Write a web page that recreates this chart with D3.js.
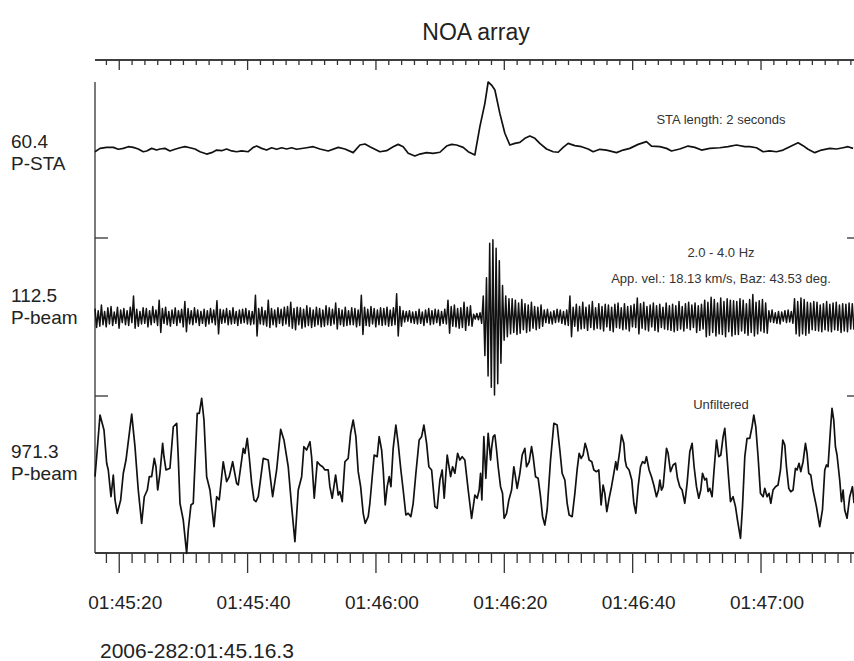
<!DOCTYPE html>
<html lang="en">
<head>
<meta charset="UTF-8">
<title>NOA array</title>
<style>
body { margin: 0; background: #fff; }
svg { display: block; font-family: "Liberation Sans", Arial, sans-serif; }
.trace { fill: none; stroke: #111; stroke-linejoin: round; }
.frame { stroke: #333; stroke-width: 1.3; fill: none; }
.axis path, .axis line { stroke: #333; stroke-width: 1.3; }
</style>
</head>
<body>
<svg width="854" height="661"></svg>
<script src="https://d3js.org/d3.v7.min.js"></script>
<script>
// 2006-282 = 9 Oct 2006, trace start 01:45:16.3 UTC
const startTime = new Date(Date.UTC(2006, 9, 9, 1, 45, 16, 300));
const windowSeconds = 119.2;

const channelNames = ["P-STA", "P-beam", "P-beam"];
const channelMax = [60.4, 112.5, 971.3];
const notes = [["STA length: 2 seconds"], ["2.0 - 4.0 Hz", "App. vel.: 18.13 km/s, Baz: 43.53 deg."], ["Unfiltered"]];

// STA trace: [seconds after start, value]
const staTrace = [[0,6.4],[0.78,9.0],[1.82,9.8],[2.85,9.8],[3.63,8.3],[4.41,9.0],[5.19,10.3],[5.97,9.8],[6.74,8.5],[7.52,6.4],[8.05,7.0],[8.83,9.0],[9.61,7.7],[10.12,8.5],[10.90,9.0],[11.68,7.0],[12.46,8.3],[13.24,9.5],[14.02,10.3],[14.80,9.5],[15.58,8.5],[16.36,6.4],[17.40,4.6],[18.18,5.7],[18.96,7.7],[19.74,7.2],[20.51,8.5],[21.29,7.0],[22.07,6.4],[22.85,7.0],[23.88,6.4],[24.66,9.8],[25.19,10.8],[25.97,9.0],[26.74,7.7],[27.52,9.5],[28.30,8.3],[29.08,9.5],[29.86,8.5],[30.64,9.5],[31.42,8.3],[32.97,9.5],[34.00,10.3],[35.05,8.5],[36.34,7.0],[37.90,9.8],[38.94,8.5],[40.23,5.7],[41.28,11.6],[42.06,12.4],[42.83,10.3],[44.39,6.4],[45.44,7.2],[46.46,10.3],[47.24,12.1],[48.02,10.3],[48.80,5.2],[49.84,3.1],[50.62,4.6],[51.67,5.7],[52.69,5.2],[53.74,6.0],[54.78,10.8],[55.56,12.1],[56.34,11.6],[57.37,9.8],[58.15,6.4],[59.19,3.9],[59.97,25.8],[60.75,43.9],[61.26,60.4],[61.79,58.0],[62.31,54.2],[63.08,36.1],[63.86,20.7],[64.64,11.6],[65.42,12.9],[66.20,13.7],[66.98,16.8],[67.76,18.6],[68.54,16.8],[69.31,12.9],[70.36,8.5],[71.39,6.4],[72.17,6.0],[72.95,9.8],[73.72,12.9],[74.77,11.1],[75.81,10.3],[76.84,8.5],[77.62,6.4],[78.66,8.3],[79.70,7.7],[81.26,5.7],[82.29,7.7],[83.33,9.0],[84.63,12.1],[85.93,14.2],[86.71,10.8],[88.01,10.3],[89.05,9.0],[89.83,7.0],[91.12,8.5],[92.41,10.8],[93.46,9.8],[94.50,7.7],[95.79,9.0],[97.35,9.5],[98.64,10.3],[99.95,11.6],[101.25,10.3],[102.02,10.3],[103.07,9.5],[104.10,6.4],[105.14,7.0],[106.18,6.4],[107.21,7.7],[108.26,10.3],[109.55,13.4],[110.33,11.1],[111.11,8.3],[112.15,5.7],[113.19,7.7],[114.49,9.0],[115.53,8.5],[116.57,9.5],[117.34,10.3],[118.12,9.0]];

// filtered beam, one extreme every 0.25 s
const beamStep = 0.25;
const beamAmp = [
  12,-15,9,-13,17,-11,8,-14,13,-10,15,-12,7,-9,14,-16,10,-8,12,-11,
  9,-12,14,-8,30,-16,11,-13,8,-10,13,-9,12,-14,9,-11,15,-8,10,-12,
  24,-22,12,-9,14,-11,8,-13,10,-9,13,-12,9,-8,11,-14,22,-21,12,-10,
  9,-11,13,-8,10,-12,8,-9,11,-13,9,-10,12,-8,10,-11,23,-24,11,-9,
  10,-8,12,-11,9,-10,13,-9,8,-12,10,-9,11,-8,12,-10,9,-11,8,-10,
  31,-27,12,-10,14,-11,9,-13,24,-15,12,-11,10,-14,13,-9,11,-12,14,-10,
  15,-13,21,-16,12,-18,14,-11,13,-16,11,-14,16,-12,13,-15,10,-13,14,-11,
  12,-14,10,-13,16,-11,13,-12,11,-10,20,-17,12,-11,10,-13,14,-12,9,-11,
  13,-11,12,-14,10,-12,31,-25,14,-12,11,-13,15,-10,12,-14,10,-11,13,-12,
  12,-11,14,-13,10,-12,13,-11,33,-27,15,-13,9,-7,8,-6,9,-8,7,-9,
  8,-10,11,-9,7,-12,10,-8,12,-11,9,-10,11,-8,10,-12,8,-9,11,-10,
  24,-23,15,-13,17,-14,12,-16,13,-15,21,-19,14,-12,16,-13,4,-3,5,-4,
  6,-9,30,-55,56,-84,105,-100,110,-111,98,-95,80,-66,45,-33,30,-28,26,-24,
  26,-22,24,-25,20,-23,25,-18,19,-22,17,-20,21,-16,15,-18,14,-16,17,-13,
  10,-8,11,-9,7,-10,9,-8,11,-7,10,-9,8,-11,10,-12,30,-28,14,-13,
  18,-20,15,-17,21,-16,14,-19,17,-15,22,-18,13,-16,19,-17,15,-20,18,-14,
  17,-19,14,-21,18,-15,20,-16,13,-18,19,-17,15,-20,16,-14,18,-15,27,-24,
  19,-16,21,-18,15,-20,17,-14,20,-19,16,-21,18,-15,14,-17,20,-18,16,-19,
  18,-21,16,-19,22,-17,15,-20,19,-16,21,-18,17,-15,20,-22,16,-19,18,-17,
  24,-28,21,-26,28,-22,25,-27,20,-24,27,-25,22,-28,26,-21,24,-27,23,-25,
  22,-25,26,-20,24,-23,19,-26,25,-22,32,-27,21,-24,23,-20,25,-22,20,-23,
  9,-7,10,-8,6,-9,8,-10,7,-6,9,-8,10,-7,8,-9,26,-24,22,-27,
  27,-24,25,-26,21,-23,20,-18,22,-19,21,-20,17,-21,19,-18,22,-20,18,-21,
  20,-18,21,-19,17,-22,19,-20,18,-21,20,-17,19,-18
];

// unfiltered beam: [seconds after start, counts]
const rawTrace = [[0,-27],[0.26,220],[0.78,736],[1.40,550],[1.82,139],[2.07,56],[2.49,-275],[2.85,-6],[3.12,-315],[3.47,-480],[4.00,-315],[4.41,15],[4.83,179],[5.72,748],[6.23,344],[6.74,-192],[7.27,-604],[7.68,-275],[8.15,-192],[8.46,-27],[8.83,-27],[9.24,200],[9.50,96],[9.77,-192],[10.12,15],[10.54,386],[10.75,220],[11.06,56],[11.68,77],[12.20,591],[12.73,633],[12.97,220],[13.24,-356],[13.75,-563],[14.28,-975],[14.53,-687],[14.95,-377],[15.31,-356],[15.93,757],[16.25,757],[16.62,943],[16.98,674],[17.40,-27],[17.91,-192],[18.54,-646],[18.96,-275],[19.36,-315],[19.98,158],[20.51,-89],[20.92,-27],[21.45,158],[22.07,-109],[22.32,-130],[23.10,324],[23.36,262],[23.72,448],[24.03,220],[24.41,-109],[24.77,-315],[25.08,-336],[25.44,-275],[26.22,200],[26.99,179],[27.68,-275],[28.30,56],[28.93,559],[29.44,427],
[30.11,96],[30.64,-398],[31.15,-831],[31.67,-192],[32.20,-27],[32.55,344],[32.98,303],[33.49,406],[33.75,220],[34.16,-294],[34.63,158],[35.05,118],[35.47,96],[35.83,56],[36.34,56],[36.60,-151],[36.96,-294],[37.49,-6],[37.90,-254],[38.16,-213],[38.52,-336],[38.94,158],[39.45,200],[39.83,510],[40.23,674],[40.65,468],[41.01,35],[41.39,-151],[41.79,-480],[42.10,-604],[42.57,-522],[42.83,-356],[43.50,241],[43.97,220],[44.28,468],[44.66,303],[44.91,56],[45.22,-377],[45.53,-151],[45.84,-27],[46.11,-151],[46.46,324],[46.88,612],[47.24,386],[47.66,56],[48.02,-192],[48.44,-501],[48.80,-480],[49.22,-522],[49.58,-356],[50.00,15],[50.51,427],[50.89,468],[51.25,612],[51.67,386],[52.02,96],[52.45,56],[52.96,-398],[53.32,-418],[53.74,-68],[54.10,56],[54.41,-294],[54.88,241],[55.41,-27],[55.72,96],[56.07,15],[56.50,262],[56.85,179],[57.21,220],[57.63,179],[58.15,-192],[58.68,-542],
[59.19,-254],[59.55,-294],[59.86,-192],[60.08,15],[60.28,-315],[60.59,468],[60.90,-47],[61.26,510],[61.64,179],[61.79,324],[62.04,468],[62.31,489],[62.57,303],[62.82,96],[63.19,-151],[63.50,-233],[63.75,-542],[64.13,-480],[64.49,-315],[64.91,-192],[65.26,96],[65.47,-6],[65.78,-171],[66.20,15],[66.56,241],[66.98,324],[67.24,96],[67.65,158],[68.02,344],[68.27,220],[68.64,-27],[69.05,-47],[69.42,-275],[69.74,-522],[70.09,-625],[70.45,-439],[70.98,179],[71.50,633],[72.01,612],[72.43,303],[72.79,15],[73.21,-68],[73.57,-356],[73.88,-501],[74.35,-522],[74.77,-233],[75.12,56],[75.44,262],[75.75,200],[76.06,241],[76.37,386],[76.68,303],[76.99,179],[77.41,158],[77.73,56],[78.15,35],[78.50,56],[78.86,-377],[79.17,-130],[79.44,-233],[79.75,-460],[80.11,-294],[80.48,-151],[80.84,15],[81.15,158],[81.35,56],[81.78,303],[82.04,489],[82.40,386],[82.60,179],[82.82,96],[83.22,56],[83.64,-68],[83.96,-356],[84.27,-480],[84.63,-151],[85.00,96],[85.31,158],[85.67,139],[85.93,220],[86.34,56],[86.71,-27],[87.07,-130],[87.49,-275],[87.80,-192],
[88.01,-68],[88.27,-192],[88.52,-151],[89.05,324],[89.30,262],[89.67,35],[90.08,118],[90.45,139],[90.76,-47],[91.12,-151],[91.48,-192],[91.90,-356],[92.26,-109],[92.68,282],[93.04,386],[93.35,96],[93.72,-151],[94.08,-294],[94.39,-192],[94.66,15],[95.02,-68],[95.28,-47],[95.53,-213],[95.79,-171],[96.15,-275],[96.46,56],[96.84,427],[97.20,220],[97.51,241],[97.87,468],[98.13,571],[98.40,303],[98.75,-68],[99.02,-336],[99.42,-275],[99.80,-398],[100.11,-563],[100.58,-789],[100.89,-398],[101.25,220],[101.60,448],[102.02,448],[102.38,591],[102.65,736],[102.96,591],[103.32,220],[103.69,-233],[104.10,-275],[104.36,-171],[104.72,-275],[105.03,-233],[105.30,-356],[105.65,-192],[106.03,-151],[106.43,-130],[106.81,56],[107.17,427],[107.48,365],[107.74,96],[108.10,-171],[108.41,-213],[108.77,-192],[109.14,77],[109.39,56],[109.70,139],[109.97,35],[110.33,158],[110.70,386],[110.95,262],[111.21,15],[111.53,-6],[111.88,-192],[112.41,-398],[112.93,-646],[113.35,-439],[113.71,56],[113.97,118],[114.22,96],[114.59,550],[114.84,819],[115.11,674],[115.37,344],[115.62,241],[116.04,-68],[116.31,-336],[116.57,-192],[116.82,-439],[117.18,-542],[117.60,-275],[118.02,-151],[118.27,-356]];

const svg = d3.select("svg");
const sec = s => new Date(+startTime + s * 1000);

const x = d3.scaleUtc()
    .domain([startTime, sec(windowSeconds)])
    .range([95, 860]);

// three stacked panels
const panels = [
    { top: 82, bottom: 238, labelY: 148 },
    { top: 238, bottom: 396, labelY: 302 },
    { top: 396, bottom: 553, labelY: 458 }
];
const yScales = panels.map((p, i) => d3.scaleLinear()
    .domain([-channelMax[i], channelMax[i]])
    .range([p.bottom, p.top]));

// title
svg.append("text")
    .attr("x", 476).attr("y", 40)
    .attr("text-anchor", "middle")
    .attr("font-size", 23)
    .attr("fill", "#222")
    .text("NOA array");

// time axes
const majorTicks = d3.utcSecond.every(20).range(x.domain()[0], x.domain()[1]);
const minorTicks = d3.utcSecond.every(2).range(x.domain()[0], x.domain()[1])
    .filter(d => d.getUTCSeconds() % 20 !== 0);
const fmt = d3.utcFormat("%H:%M:%S");

function timeAxis(y, major, minor, labels) {
    const g = svg.append("g").attr("class", "axis").attr("transform", `translate(0,${y})`);
    g.append("g").call(d3.axisBottom(x).tickValues(minorTicks).tickSize(minor).tickSizeOuter(0).tickFormat(""));
    const m = g.append("g").call(d3.axisBottom(x).tickValues(majorTicks).tickSize(major).tickSizeOuter(0)
        .tickPadding(23).tickFormat(labels ? fmt : ""));
    m.selectAll("text")
        .attr("x", 6)
        .attr("font-size", 19)
        .attr("font-family", "'Liberation Sans', Arial, sans-serif")
        .attr("fill", "#222");
    g.selectAll(".domain").attr("d", `M95,0H860`);
}
timeAxis(60, 10, 5, false);
timeAxis(553, 20, 10, true);

// left frame and panel ticks
svg.append("line").attr("class", "frame")
    .attr("x1", 95).attr("x2", 95).attr("y1", panels[0].top).attr("y2", panels[2].bottom);
panels.forEach(p => {
    svg.append("line").attr("class", "frame")
        .attr("x1", 95).attr("x2", 108).attr("y1", p.bottom).attr("y2", p.bottom);
    if (p.bottom < 553) {
        svg.append("line").attr("class", "frame")
            .attr("x1", 847).attr("x2", 860).attr("y1", p.bottom).attr("y2", p.bottom);
    }
});

// channel labels
panels.forEach((p, i) => {
    const t = svg.append("text")
        .attr("x", 11).attr("y", p.labelY)
        .attr("font-size", 19)
        .attr("fill", "#222");
    t.append("tspan").attr("x", 11).text(channelMax[i]);
    t.append("tspan").attr("x", 11).attr("dy", 22).text(channelNames[i]);
});

// traces
const staLine = d3.line().x(d => x(sec(d[0]))).y(d => yScales[0](d[1]));
svg.append("path").attr("class", "trace").attr("stroke-width", 1.7).attr("d", staLine(staTrace));

const beamLine = d3.line().x((d, i) => x(sec(i * beamStep))).y(d => yScales[1](d));
svg.append("path").attr("class", "trace").attr("stroke-width", 1.5).attr("d", beamLine(beamAmp));

const rawLine = d3.line().x(d => x(sec(d[0]))).y(d => yScales[2](d[1]));
svg.append("path").attr("class", "trace").attr("stroke-width", 1.7).attr("d", rawLine(rawTrace));

// annotations
const noteY = [[124], [257, 283], [409]];
notes.forEach((lines, i) => {
    lines.forEach((s, j) => {
        svg.append("text")
            .attr("x", 721).attr("y", noteY[i][j])
            .attr("text-anchor", "middle")
            .attr("font-size", 13)
            .attr("fill", "#333")
            .text(s);
    });
});

// reference time
svg.append("text")
    .attr("x", 100).attr("y", 658)
    .attr("font-size", 21)
    .attr("fill", "#222")
    .text("2006-282:01:45.16.3");
</script>
</body>
</html>
